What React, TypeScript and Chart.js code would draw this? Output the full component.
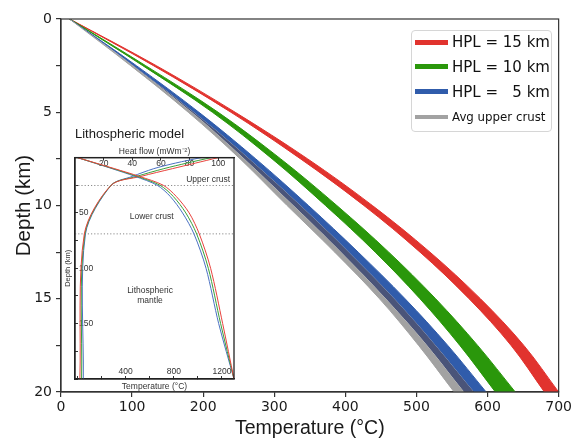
import React, { useEffect, useRef } from 'react';
import { Chart, registerables } from 'chart.js';

Chart.register(...registerables);

// ---------- main chart data (temperature °C at each depth, km) ----------
const depthKm = [0, 2.5, 5, 7.5, 10, 12.5, 15, 17.5, 20];
const grayLowT = [12, 98, 179, 252, 318, 385, 448, 503, 553];
const grayHighT = [12, 102, 187, 265, 337, 405, 469, 527, 581];
const blueLowT = [12, 101, 184, 258, 327, 394, 457, 515, 567];
const blueHighT = [12, 106, 194, 274, 348, 418, 484, 544, 598];
const greenLowT = [12, 115, 213, 297, 372, 442, 505, 561, 611];
const greenHighT = [12, 119, 221, 309, 388, 461, 527, 586, 639];
const redLowT = [12, 130, 239, 337, 426, 505, 574, 633, 680];
const redHighT = [12, 134, 245, 347, 438, 519, 590, 651, 700];

const mainTempTicks = [0, 100, 200, 300, 400, 500, 600, 700];
const mainDepthTicks = [0, 2.5, 5, 7.5, 10, 12.5, 15, 17.5, 20];
const mainDepthLabels = [0, 5, 10, 15, 20];

const legendLabels = ['HPL = 15 km', 'HPL = 10 km', 'HPL =   5 km', 'Avg upper crust'];

// ---------- inset data ----------
const insetTempDepth = [0, 10, 17, 25, 35, 50, 69, 100, 150, 200];
const insetTempRed = [0, 308, 515, 713, 820, 928, 1012, 1106, 1206, 1300];
const insetTempGreen = [0, 298, 497, 686, 795, 900, 990, 1087, 1189, 1300];
const insetTempBlue = [0, 288, 480, 663, 770, 873, 968, 1068, 1173, 1300];

const insetHfDepth = [0, 5, 10, 17, 25, 69, 200];
const insetHfRed = [100, 84, 68, 46, 25.2, 6.5, 3.4];
const insetHfGreen = [95, 78, 62, 43, 25.2, 6.9, 4.6];
const insetHfBlue = [88, 70, 55, 40, 25.2, 7.3, 5.8];

const insetBoundaryDepths = [25.2, 68.9];
const insetTempTicks = [0, 200, 400, 600, 800, 1000, 1200];
const insetTempLabels = [400, 800, 1200];
const insetHfTicks = [20, 40, 60, 80, 100];
const insetDepthTicks = [0, 25, 50, 75, 100, 125, 150, 175, 200];
const insetDepthLabels = [50, 100, 150];

const insetLayerNames = [['Upper crust'], ['Lower crust'], ['Lithospheric', 'mantle']];
const insetLayerT = [1085, 617, 603];
const insetLayerDepth = [20, 53.3, 124.3];

// ---------- colours ----------
const RED = '#e1332e';
const GREEN = '#2a970b';
const BLUE = '#305cab';
const GRAY = '#a2a2a2';
const OVERLAP = '#4a5479';
const I_RED = '#e8433d';
const I_GREEN = '#3a9f3a';
const I_BLUE = '#4b71c3';

const pts = (ts: number[], ds: number[]) => ts.map((t, i) => ({ x: t, y: ds[i] }));

const framePlugin = (color: string, width: number) => ({
  id: 'frame',
  afterDraw(chart: any) {
    const { ctx, chartArea: a } = chart;
    ctx.save();
    ctx.strokeStyle = color;
    ctx.lineWidth = width;
    ctx.strokeRect(a.left, a.top, a.right - a.left, a.bottom - a.top);
    ctx.restore();
  },
});

const layerTextPlugin = {
  id: 'layerText',
  afterDatasetsDraw(chart: any) {
    const { ctx } = chart;
    const xs = chart.scales.xT;
    const ys = chart.scales.yD;
    ctx.save();
    ctx.font = '8.5px "Liberation Sans", Arial, sans-serif';
    ctx.fillStyle = '#333';
    ctx.textAlign = 'center';
    ctx.textBaseline = 'middle';
    insetLayerNames.forEach((lines, i) => {
      const x = xs.getPixelForValue(insetLayerT[i]);
      const y = ys.getPixelForValue(insetLayerDepth[i]);
      const lh = 10;
      lines.forEach((ln, j) => {
        ctx.fillText(ln, x, y + (j - (lines.length - 1) / 2) * lh);
      });
    });
    ctx.restore();
  },
};

export default function App() {
  const mainRef = useRef<HTMLCanvasElement>(null);
  const insetRef = useRef<HTMLCanvasElement>(null);

  useEffect(() => {
    const edge = (data: number[], color: string, width: number, fill: any, bg: string) => ({
      data: pts(data, depthKm),
      borderColor: color,
      borderWidth: width,
      backgroundColor: bg,
      fill,
      pointRadius: 0,
      tension: 0.35,
    });

    const main = new Chart(mainRef.current as HTMLCanvasElement, {
      type: 'line',
      data: {
        datasets: [
          edge(grayLowT, GRAY, 1, false, GRAY),
          edge(blueLowT, GRAY, 0, '-1', GRAY),
          edge(grayHighT, OVERLAP, 0, '-1', OVERLAP),
          edge(blueHighT, BLUE, 1, '-1', BLUE),
          edge(greenLowT, GREEN, 1, false, GREEN),
          edge(greenHighT, GREEN, 1, '-1', GREEN),
          edge(redLowT, RED, 1, false, RED),
          edge(redHighT, RED, 1, '-1', RED),
        ] as any,
      },
      options: {
        indexAxis: 'y',
        responsive: false,
        animation: false,
        events: [],
        layout: { padding: { left: 0, right: 12, top: 19, bottom: 0 }, autoPadding: false } as any,
        plugins: { legend: { display: false }, tooltip: { enabled: false } },
        scales: {
          x: {
            type: 'linear',
            position: 'bottom',
            min: 0,
            max: 700,
            afterFit: (s: any) => { s.height = 48; },
            afterBuildTicks: (s: any) => { s.ticks = mainTempTicks.map((v) => ({ value: v })); },
            grid: { drawOnChartArea: false, drawTicks: true, tickLength: 5, color: '#333', lineWidth: 1.2 },
            border: { display: true, color: '#333', width: 1.2 },
            ticks: {
              font: { family: '"DejaVu Sans", sans-serif', size: 14 },
              color: '#1a1a1a',
              padding: 2,
              maxRotation: 0,
              autoSkip: false,
            },
            title: {
              display: true,
              text: 'Temperature (°C)',
              font: { family: '"Liberation Sans", Arial, sans-serif', size: 19.5 },
              color: '#1a1a1a',
              padding: { top: 0, bottom: 0 },
            },
          },
          y: {
            type: 'linear',
            position: 'left',
            min: 0,
            max: 20,
            reverse: true,
            afterFit: (s: any) => { s.width = 61; },
            afterBuildTicks: (s: any) => { s.ticks = mainDepthTicks.map((v) => ({ value: v })); },
            grid: { drawOnChartArea: false, drawTicks: true, tickLength: 5, color: '#333', lineWidth: 1.2 },
            border: { display: true, color: '#333', width: 1.2 },
            ticks: {
              font: { family: '"DejaVu Sans", sans-serif', size: 14 },
              color: '#1a1a1a',
              padding: 4,
              autoSkip: false,
              callback: (v: any) => (mainDepthLabels.includes(Number(v)) ? String(v) : ''),
            },
            title: {
              display: true,
              text: 'Depth (km)',
              font: { family: '"Liberation Sans", Arial, sans-serif', size: 20.5 },
              color: '#1a1a1a',
              padding: { top: 12, bottom: 0 },
            },
          },
        } as any,
      },
      plugins: [framePlugin('#333', 1.2)],
    });

    const iline = (xs: number[], ys: number[], color: string, xAxisID: string) => ({
      data: pts(xs, ys),
      borderColor: color,
      borderWidth: 1,
      pointRadius: 0,
      tension: 0.3,
      fill: false,
      xAxisID,
      yAxisID: 'yD',
    });

    const smallFont = { family: '"Liberation Sans", Arial, sans-serif', size: 8.5 };

    const inset = new Chart(insetRef.current as HTMLCanvasElement, {
      type: 'line',
      data: {
        datasets: [
          iline(insetTempRed, insetTempDepth, I_RED, 'xT'),
          iline(insetTempGreen, insetTempDepth, I_GREEN, 'xT'),
          iline(insetTempBlue, insetTempDepth, I_BLUE, 'xT'),
          iline(insetHfRed, insetHfDepth, I_RED, 'xH'),
          iline(insetHfGreen, insetHfDepth, I_GREEN, 'xH'),
          iline(insetHfBlue, insetHfDepth, I_BLUE, 'xH'),
          ...insetBoundaryDepths.map((d) => ({
            data: [{ x: -20, y: d }, { x: 1300, y: d }],
            borderColor: '#8a8a8a',
            borderWidth: 1,
            borderDash: [1.2, 2],
            pointRadius: 0,
            fill: false,
            xAxisID: 'xT',
            yAxisID: 'yD',
          })),
        ] as any,
      },
      options: {
        indexAxis: 'y',
        responsive: false,
        animation: false,
        events: [],
        layout: { padding: { left: 0, right: 8, top: 0, bottom: 0 }, autoPadding: false } as any,
        plugins: {
          legend: { display: false },
          tooltip: { enabled: false },
          title: {
            display: true,
            text: 'Lithospheric model',
            align: 'start',
            fullSize: false,
            font: { family: '"Liberation Sans", Arial, sans-serif', size: 13, weight: 'normal' },
            color: '#1a1a1a',
            padding: { top: 3, bottom: 2 },
          },
        } as any,
        scales: {
          xT: {
            axis: 'x',
            type: 'linear',
            position: 'bottom',
            min: -20,
            max: 1300,
            afterFit: (s: any) => { s.height = 13; },
            afterBuildTicks: (s: any) => { s.ticks = insetTempTicks.map((v) => ({ value: v })); },
            grid: { drawOnChartArea: false, drawTicks: true, tickLength: -3, color: '#333', lineWidth: 1 },
            border: { display: true, color: '#222', width: 1.3 },
            ticks: {
              mirror: true,
              padding: 2.4,
              font: smallFont,
              color: '#333',
              maxRotation: 0,
              autoSkip: false,
              callback: (v: any) => (insetTempLabels.includes(Number(v)) ? String(v) : ''),
            },
            title: { display: true, text: 'Temperature (°C)', font: smallFont, color: '#333', padding: { top: 0, bottom: 0 } },
          },
          xH: {
            axis: 'x',
            type: 'linear',
            position: 'top',
            min: 0,
            max: 111,
            afterFit: (s: any) => { s.height = 13; },
            afterBuildTicks: (s: any) => { s.ticks = insetHfTicks.map((v) => ({ value: v })); },
            grid: { drawOnChartArea: false, drawTicks: true, tickLength: -3, color: '#333', lineWidth: 1 },
            border: { display: true, color: '#222', width: 1.3 },
            ticks: { mirror: true, padding: 0.7, font: smallFont, color: '#333', maxRotation: 0, autoSkip: false },
            title: { display: true, text: 'Heat flow (mWm⁻²)', font: smallFont, color: '#333', padding: { top: 2.3, bottom: 0 } },
          },
          yD: {
            axis: 'y',
            type: 'linear',
            position: 'left',
            min: 0,
            max: 200,
            reverse: true,
            afterFit: (s: any) => { s.width = 17; },
            afterBuildTicks: (s: any) => { s.ticks = insetDepthTicks.map((v) => ({ value: v })); },
            grid: { drawOnChartArea: false, drawTicks: true, tickLength: -3, color: '#333', lineWidth: 1 },
            border: { display: true, color: '#222', width: 1.3 },
            ticks: {
              mirror: true,
              padding: 4,
              font: smallFont,
              color: '#333',
              autoSkip: false,
              callback: (v: any) => (insetDepthLabels.includes(Number(v)) ? String(v) : ''),
            },
            title: {
              display: true,
              text: 'Depth (km)',
              font: { family: '"Liberation Sans", Arial, sans-serif', size: 7.5 },
              color: '#333',
              padding: { top: 5.8, bottom: 0 },
            },
          },
        } as any,
      },
      plugins: [framePlugin('#222', 1.3), layerTextPlugin],
    });

    return () => {
      main.destroy();
      inset.destroy();
    };
  }, []);

  const swatchColors = [RED, GREEN, BLUE, GRAY];
  const swatchHeights = [5, 5, 5, 4];

  return (
    <div style={{ position: 'absolute', left: 0, top: 0, width: 574, height: 440, background: '#fff', overflow: 'hidden' }}>
      <canvas
        ref={mainRef}
        width={574}
        height={440}
        style={{ position: 'absolute', left: 0, top: 0, width: 574, height: 440 }}
      />
      <canvas
        ref={insetRef}
        width={184}
        height={268}
        style={{ position: 'absolute', left: 58, top: 124, width: 184, height: 268 }}
      />
      <div
        style={{
          position: 'absolute',
          left: 411,
          top: 30,
          width: 141,
          height: 102,
          boxSizing: 'border-box',
          border: '1px solid #d6d6d6',
          borderRadius: 4,
          background: 'rgba(255,255,255,0.85)',
        }}
      >
        {legendLabels.map((lab, i) => (
          <div
            key={lab}
            style={{
              position: 'absolute',
              left: 3,
              top: 1 + i * 24.9,
              height: 20,
              display: 'flex',
              alignItems: 'center',
              whiteSpace: 'pre',
            }}
          >
            <span
              style={{
                display: 'inline-block',
                width: 33,
                height: swatchHeights[i],
                background: swatchColors[i],
                marginRight: 4,
              }}
            />
            <span
              style={{
                fontFamily: '"DejaVu Sans", sans-serif',
                fontSize: i === 3 ? 11.8 : 15,
                color: '#111',
                lineHeight: '20px',
              }}
            >
              {lab}
            </span>
          </div>
        ))}
      </div>
    </div>
  );
}
